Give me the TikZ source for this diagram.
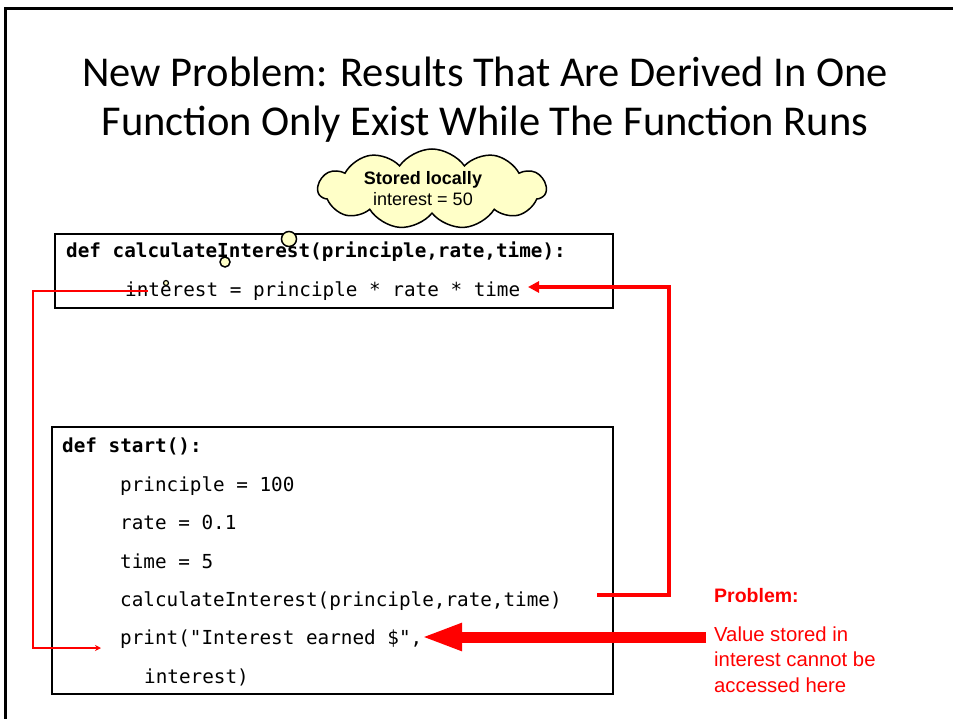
\documentclass[tikz,border=0pt]{standalone}
\usepackage{fontspec}
\setmainfont{Carlito}
\newfontfamily\arialf{Liberation Sans}
\newfontfamily\codef{DejaVu Sans Mono}
\usetikzlibrary{shapes.symbols,arrows.meta}
\definecolor{cloudfill}{HTML}{FFFFC8}
\begin{document}
\begin{tikzpicture}[x=1pt,y=-1pt,
  code/.style={font=\codef\fontsize{19.3}{23}\selectfont,anchor=base west,inner sep=0pt},
  codeb/.style={code,font=\codef\bfseries\fontsize{19.3}{23}\selectfont},
  title/.style={font=\fontsize{42.5}{50}\selectfont,anchor=base,inner sep=0pt},
  fbox/.style={draw=black,line width=2pt},
  redtxt/.style={font=\arialf\fontsize{20.3}{25}\selectfont,text=red,anchor=base west,inner sep=0pt},
  thought/.style={draw=black,line width=1.5pt,fill=cloudfill}]
\useasboundingbox (0,0) rectangle (953,719);
\fill[white] (0,0) rectangle (953,719);
% frame
\draw[line width=3pt] (5,730) -- (5,9) -- (960,9);
% title
\node[title] (t1) at (485,87) {New Problem: Results That Are Derived In One};
\node[title] (t2) at (485,136) {Function Only Exist While The Function Runs};
% top box
\draw[fbox] (55,234) rectangle (613,308);
\node[codeb] (c0) at (66,258) {def calculateInterest(principle,rate,time):};
\node[code] (c1) at (125,297) {interest = principle * rate * time};
% bottom box
\draw[fbox] (52,427) rectangle (613,694);
\node[codeb] (s0) at (62,452) {def start():};
\node[code] (s1) at (120,491) {principle = 100};
\node[code] (s2) at (120,529) {rate = 0.1};
\node[code] (s3) at (120,568) {time = 5};
\node[code] (s4) at (120,606) {calculateInterest(principle,rate,time)};
\node[code] (s5) at (120,644) {print("Interest earned \$",};
\node[code] (s6) at (144,683) {interest)};
% cloud
\node[cloud, cloud puffs=11, cloud puff arc=110, cloud ignores aspect, thought,
  minimum width=228pt, minimum height=80pt, inner sep=0pt] (cl) at (432,189) {};
\node[align=center,inner sep=0pt,font=\arialf\fontsize{18}{21}\selectfont] (cltxt) at (423,189)
  {\textbf{Stored locally}\\interest = 50};
\node[circle,thought,minimum size=15pt,inner sep=0pt] (b1) at (289,239) {};
\node[circle,thought,minimum size=10pt,inner sep=0pt] (b2) at (225,262) {};
\node[circle,draw=black,line width=1.2pt,fill=cloudfill,minimum size=5pt,inner sep=0pt] (b3) at (166,283) {};
% red connectors
\coordinate (a0) at (148,291);
\coordinate (a1) at (33,291);
\coordinate (a2) at (33,648);
\coordinate (a3) at (101,648);
\draw[red,line width=2pt,-{Stealth[length=6pt,width=6pt]}] (a0) -- (a1) -- (a2) -- (a3);
\coordinate (r0) at (597,595);
\coordinate (r1) at (669,595);
\coordinate (r2) at (669,287);
\coordinate (r3) at (528,287);
\draw[red,line width=3.5pt,-{Triangle[length=11pt,width=11pt]}] (r0) -- (r1) -- (r2) -- (r3);
% big arrow
\coordinate (p0) at (706,637);
\coordinate (p1) at (421,637);
\draw[red,line width=11pt,-{Triangle[length=41pt,width=25pt]}] (p0) -- (p1);
% problem text
\node[redtxt,font=\arialf\bfseries\fontsize{19.5}{22}\selectfont] (pr) at (714,602) {Problem:};
\node[redtxt] (pv1) at (714,641) {Value stored in};
\node[redtxt] (pv2) at (714,666) {interest cannot be};
\node[redtxt] (pv3) at (714,692) {accessed here};
\end{tikzpicture}
\end{document}
